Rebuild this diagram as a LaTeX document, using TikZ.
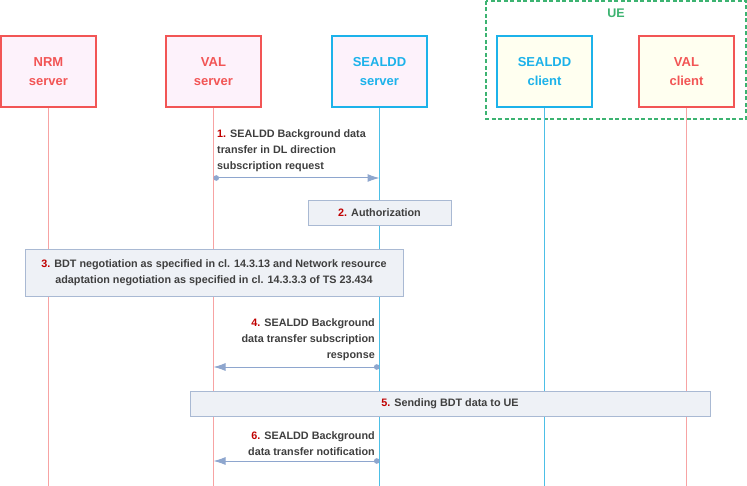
\documentclass[tikz,border=0pt]{standalone}
\usepackage{fontspec}
\setmainfont{Liberation Sans}
\usetikzlibrary{arrows.meta,calc}

\definecolor{srvred}{HTML}{F25555}
\definecolor{lifered}{HTML}{F7A3A3}
\definecolor{sealblue}{HTML}{1CB2EA}
\definecolor{lifeblue}{HTML}{4CBFE6}
\definecolor{uegreen}{HTML}{3CB371}
\definecolor{msgblue}{HTML}{8EA6CE}
\definecolor{stepfill}{HTML}{EEF1F6}
\definecolor{stepline}{HTML}{A9B9D3}
\definecolor{numred}{HTML}{C00000}
\definecolor{txtgray}{HTML}{3F3F3F}

\begin{document}
\begin{tikzpicture}[x=1pt,y=-1pt,
  entity/.style={draw,line width=1.4pt,minimum width=95pt,minimum height=71pt,
    align=center,font=\fontsize{13}{18.5}\selectfont\bfseries},
  server/.style={entity,fill={rgb,255:red,253;green,242;blue,251}},
  client/.style={entity,fill={rgb,255:red,255;green,255;blue,240}},
  msg/.style={msgblue,line width=1pt,{Circle[length=5.5pt]}-{Latex[length=12pt,width=8pt]}},
  msgtext/.style={inner sep=0pt,text=txtgray,font=\fontsize{10.8}{16}\selectfont\bfseries},
  stepbox/.style={draw=stepline,fill=stepfill,line width=0.8pt,inner sep=0pt,
    text=txtgray,font=\fontsize{10.8}{16}\selectfont\bfseries,align=center}]
\useasboundingbox (0,0) rectangle (747,486);
% UE frame
\draw[uegreen,dashed,line width=1.1pt,dash pattern=on 4pt off 2.5pt] (486,1) rectangle (746,119);
\node[text=uegreen,font=\fontsize{12.5}{14}\selectfont\bfseries] (ue) at (616,13) {UE};
% entities
\node[server,draw=srvred,text=srvred] (nrm) at (48.5,71.5) {NRM\\server};
\node[server,draw=srvred,text=srvred] (val) at (213.5,71.5) {VAL\\server};
\node[server,draw=sealblue,text=sealblue] (sserver) at (379.5,71.5) {SEALDD\\server};
\node[client,draw=sealblue,text=sealblue] (sclient) at (544.5,71.5) {SEALDD\\client};
\node[client,draw=srvred,text=srvred] (vclient) at (686.5,71.5) {VAL\\client};
% lifelines
\foreach \e/\c in {nrm/lifered,val/lifered,sserver/lifeblue,sclient/lifeblue,vclient/lifered}
  \draw[\c,line width=1pt] (\e.south) -- (\e.south |- 0,486);
% 1
\coordinate (m1a) at (val.south |- 0,178);
\coordinate (m1b) at (sserver.south |- 0,178);
\draw[msg] (m1a) -- (m1b);
\node[msgtext,anchor=south west,align=left] (t1) at (217,172) {\textcolor{numred}{1.} SEALDD Background data\\transfer in DL direction\\subscription request};
% 2
\node[stepbox,minimum width=143pt,minimum height=25pt] (s2) at (379.5,212.5) {\textcolor{numred}{2.} Authorization};
% 3
\node[stepbox,minimum width=378pt,minimum height=47pt] (s3) at (214,272.5) {\textcolor{numred}{3.} BDT negotiation as specified in cl. 14.3.13 and Network resource\\adaptation negotiation as specified in cl. 14.3.3.3 of TS 23.434};
% 4
\coordinate (m4a) at (sserver.south |- 0,367);
\coordinate (m4b) at (val.south |- 0,367);
\draw[msg] (m4a) -- (m4b);
\node[msgtext,anchor=south east,align=right] (t4) at (375,361) {\textcolor{numred}{4.} SEALDD Background\\data transfer subscription\\response};
% 5
\node[stepbox,minimum width=520pt,minimum height=25pt] (s5) at (450,403.5) {\textcolor{numred}{5.} Sending BDT data to UE};
% 6
\coordinate (m6a) at (sserver.south |- 0,461);
\coordinate (m6b) at (val.south |- 0,461);
\draw[msg] (m6a) -- (m6b);
\node[msgtext,anchor=south east,align=right] (t6) at (375,456) {\textcolor{numred}{6.} SEALDD Background\\data transfer notification};
\end{tikzpicture}
\end{document}
